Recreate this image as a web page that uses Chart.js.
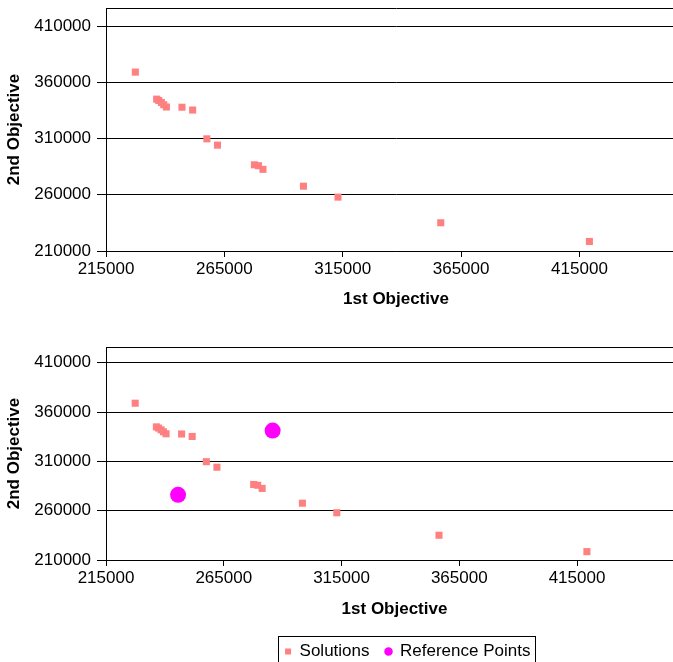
<!DOCTYPE html>
<html><head><meta charset="utf-8">
<script src="https://cdn.jsdelivr.net/npm/chart.js@4.4.0/dist/chart.umd.min.js"></script>
<style>
html,body{margin:0;padding:0;background:#fff;overflow:hidden;width:673px;height:662px;}
#topChart{position:absolute;left:0;top:0;}
#botChart{position:absolute;left:0;top:330px;}
</style></head><body>
<canvas id="topChart" width="691" height="312"></canvas>
<canvas id="botChart" width="691" height="340"></canvas>
<script>
// ---- data ----
const seriesNames = ['Solutions', 'Reference Points'];
const solX = [227400, 236400, 237300, 238400, 239400, 240500, 247100, 251600, 257600, 262100, 277700, 279400, 281300, 298400, 313000, 356400, 419200];
const solY = [369000, 345000, 343800, 342000, 340000, 338000, 337800, 335300, 309700, 304100, 286600, 285800, 282600, 267600, 257900, 235100, 218500];
const refX = [285750, 245600];
const refY = [341200, 276100];
const xTicks = [215000, 265000, 315000, 365000, 415000];
const yTicks = [210000, 260000, 310000, 360000, 410000];
const xMin = 215000, xMax = 460000, yMin = 210000, yMax = 426000;
const xTitle = '1st Objective', yTitle = '2nd Objective';

Chart.defaults.font.family = "'Liberation Sans', Arial, Helvetica, sans-serif";
Chart.defaults.font.size = 17;
Chart.defaults.color = '#000';

function pts(xs, ys) { return xs.map((x, i) => ({ x: x, y: ys[i] })); }

function makeScales(xHeight, xTitlePad) {
  return {
    x: {
      type: 'linear', position: 'bottom', min: xMin, max: xMax,
      afterBuildTicks: s => { s.ticks = xTicks.map(v => ({ value: v })); },
      ticks: { callback: v => String(v), padding: 2, maxRotation: 0, autoSkip: false, color: '#000', font: { size: 17 } },
      grid: { drawOnChartArea: false, drawTicks: true, tickLength: 6, tickColor: '#000', color: '#000' },
      border: { color: '#000', width: 1 },
      title: { display: true, text: xTitle, color: '#000', font: { size: 17, weight: 'bold' }, padding: { top: 0, bottom: xTitlePad } },
      afterFit: s => { s.height = xHeight; s.paddingLeft = 0; s.paddingRight = 0; }
    },
    y: {
      type: 'linear', position: 'left', min: yMin, max: yMax,
      afterBuildTicks: s => { s.ticks = yTicks.map(v => ({ value: v })).concat([{ value: yMax }]); },
      ticks: { callback: v => (yTicks.includes(v) ? String(v) : ''), padding: 6, autoSkip: false, color: '#000', font: { size: 17 } },
      grid: { color: '#000', lineWidth: 1, drawTicks: true, tickLength: 9,
        tickColor: c => (c.tick && c.tick.value === yMax) ? 'rgba(0,0,0,0)' : '#000' },
      border: { color: '#000', width: 1 },
      title: { display: true, text: yTitle, color: '#000', font: { size: 17, weight: 'bold' }, padding: { top: 4, bottom: 0 } },
      afterFit: s => { s.width = 106; s.paddingTop = 0; s.paddingBottom = 0; }
    }
  };
}

const solDataset = () => ({
  label: seriesNames[0], data: pts(solX, solY),
  pointStyle: 'rect', pointRadius: 5, pointHoverRadius: 5,
  backgroundColor: '#FF8080', borderColor: '#FF8080', pointBorderWidth: 0, showLine: false
});
const refDataset = () => ({
  label: seriesNames[1], data: pts(refX, refY),
  pointStyle: 'circle', pointRadius: 8, pointHoverRadius: 8,
  backgroundColor: '#FF00FF', borderColor: '#FF00FF', pointBorderWidth: 0, showLine: false
});

const legendFrame = {
  id: 'legendFrame',
  afterUpdate(chart) {
    const lg = chart.legend;
    if (!lg || !lg.legendHitBoxes || !lg.legendHitBoxes.length) return;
    const hb = lg.legendHitBoxes;
    const l = Math.min(...hb.map(h => h.left));
    const r = Math.max(...hb.map(h => h.left + h.width));
    const shift = 407.75 - (l + r) / 2;
    lg.left += shift; lg.right += shift;
    hb.forEach(h => { h.left += shift; });
  },
  afterDraw(chart) {
    const lg = chart.legend;
    if (!lg || !lg.legendHitBoxes || !lg.legendHitBoxes.length) return;
    const hb = lg.legendHitBoxes;
    const l = Math.min(...hb.map(h => h.left)) - 7.5;
    const r = Math.max(...hb.map(h => h.left + h.width)) + 4;
    const t = hb[0].top - 7.5;
    const ctx = chart.ctx;
    ctx.save();
    ctx.strokeStyle = '#000';
    ctx.lineWidth = 1;
    ctx.strokeRect(Math.round(l) + 0.5, Math.round(t) + 0.5, Math.round(r - l), 40);
    ctx.restore();
  }
};

new Chart(document.getElementById('topChart'), {
  type: 'scatter',
  data: { datasets: [solDataset()] },
  options: {
    responsive: false, animation: false, events: [],
    layout: { padding: { top: 8, left: 0, right: 0, bottom: 0 } },
    plugins: { legend: { display: false }, tooltip: { enabled: false } },
    scales: makeScales(61, 2)
  }
});

new Chart(document.getElementById('botChart'), {
  type: 'scatter',
  data: { datasets: [solDataset(), refDataset()] },
  options: {
    responsive: false, animation: false, events: [],
    layout: { padding: { top: 17, left: 0, right: 0, bottom: 0 } },
    plugins: {
      legend: {
        display: true, position: 'bottom', align: 'center',
        labels: { usePointStyle: true, boxWidth: 6, boxHeight: 6, padding: 16, color: '#000', font: { size: 17 } }
      },
      tooltip: { enabled: false }
    },
    scales: makeScales(67, 7)
  },
  plugins: [legendFrame]
});
</script>
</body></html>
